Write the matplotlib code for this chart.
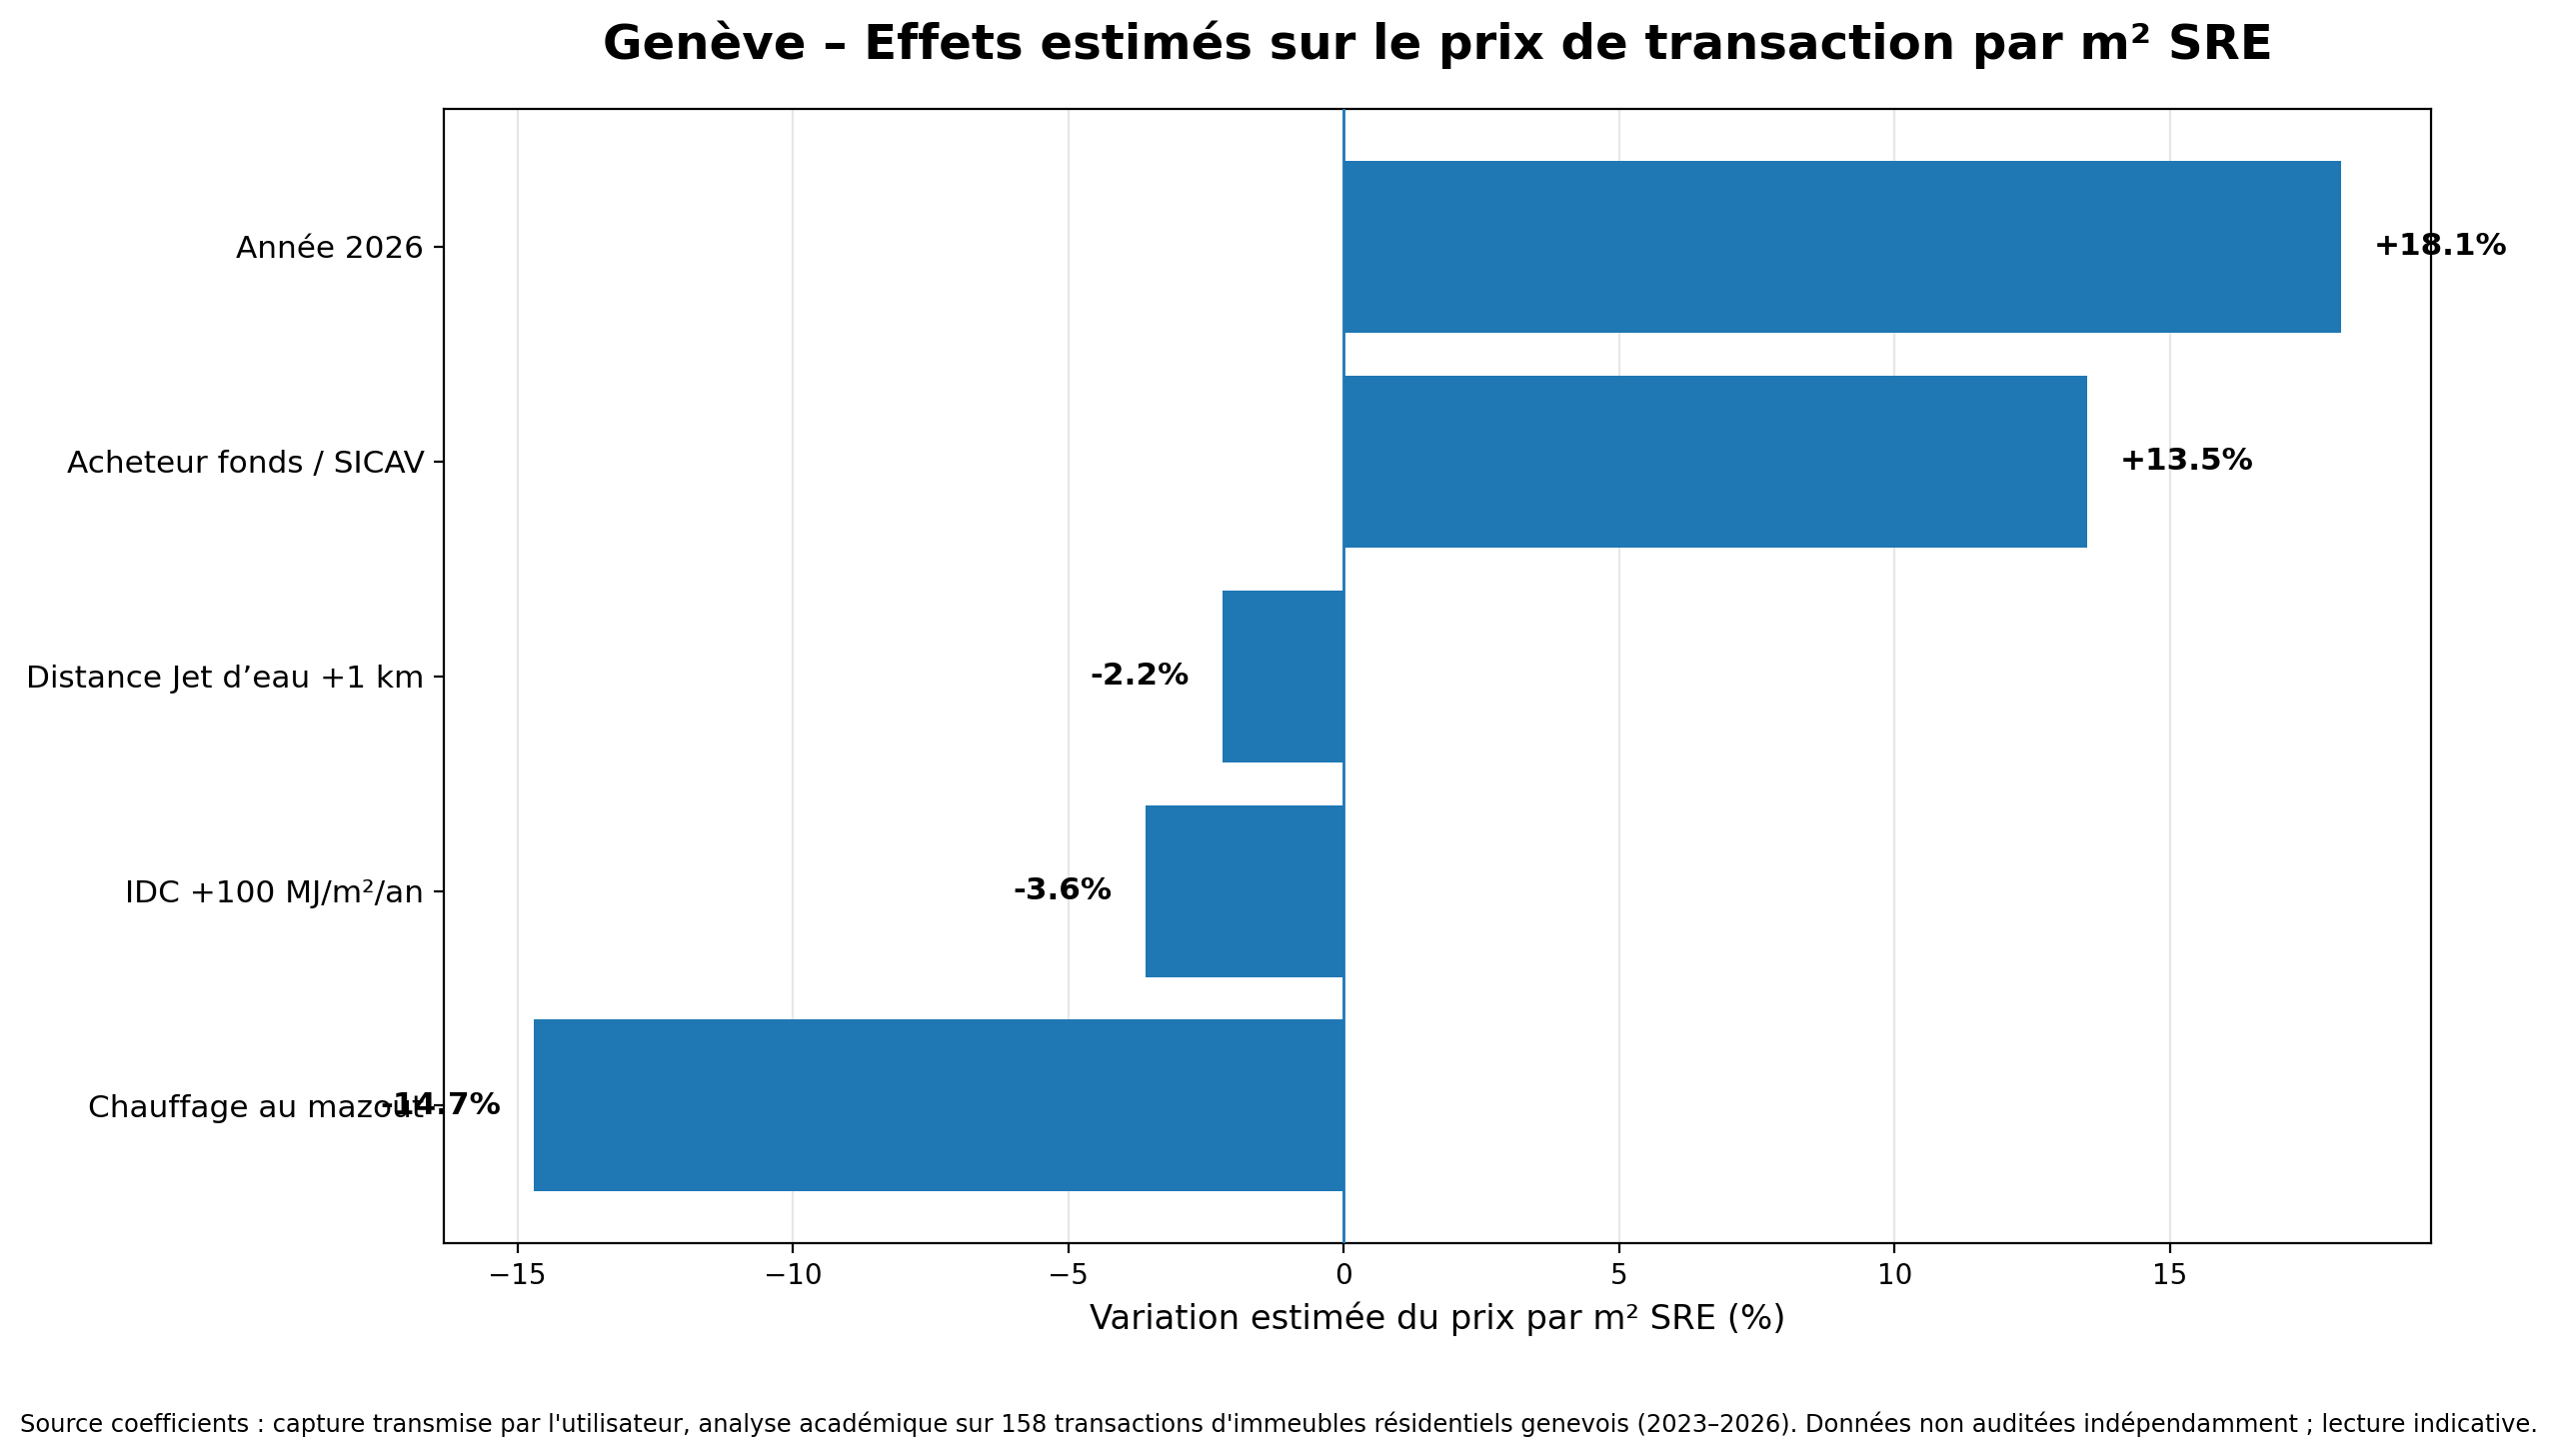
import matplotlib.pyplot as plt

labels = ["Chauffage au mazout", "IDC +100 MJ/m²/an", "Distance Jet d’eau +1 km",
          "Acheteur fonds / SICAV", "Année 2026"]
effects = [-14.7, -3.6, -2.2, 13.5, 18.1]

fig = plt.figure(figsize=(12.8, 7.285), dpi=200)
ax = fig.add_axes([0.1734, 0.1462, 0.7766, 0.7788])

ax.barh(labels, effects, color="#1f77b4", zorder=2)
ax.axvline(0, color="#1f77b4", linewidth=1, zorder=3)
ax.grid(axis="x", color="#dddddd", alpha=0.7, zorder=0)
ax.set_axisbelow(True)

# value labels (the last one overlaps the tick label, as in the original)
for i, v in enumerate(effects):
    if v >= 0:
        ax.text(v + 0.6, i, "+{:.1f}%".format(v), va="center", ha="left",
                fontsize=11.2, fontweight="bold")
    else:
        ax.text(v - 0.6, i, "{:.1f}%".format(v), va="center", ha="right",
                fontsize=11.2, fontweight="bold")

ax.tick_params(axis="y", labelsize=11.2)
ax.tick_params(axis="x", labelsize=10)
ax.set_xlabel("Variation estimée du prix par m² SRE (%)", fontsize=12.2)
ax.set_title("Genève – Effets estimés sur le prix de transaction par m² SRE",
             fontsize=17.4, fontweight="bold", pad=18)
fig.text(0.5, 0.022,
         "Source coefficients : capture transmise par l'utilisateur, analyse académique sur 158 transactions "
         "d'immeubles résidentiels genevois (2023–2026). Données non auditées indépendamment ; lecture indicative.",
         ha="center", va="center", fontsize=8.7)

fig.savefig("out.png", dpi=200)
